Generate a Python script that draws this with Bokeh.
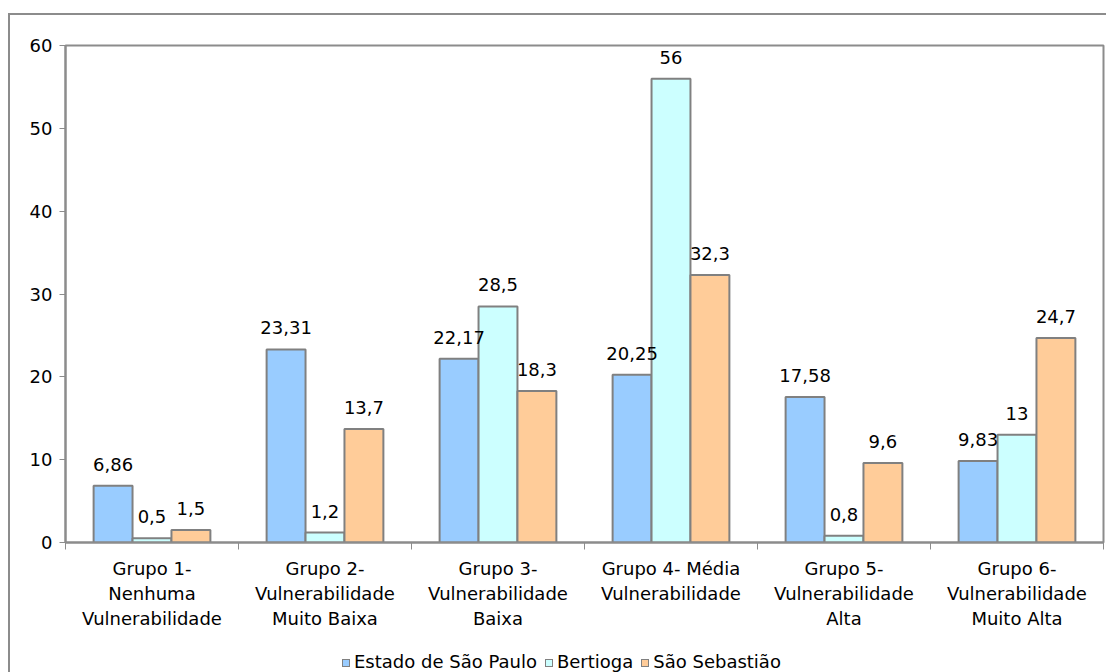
from bokeh.plotting import figure
from bokeh.models import (ColumnDataSource, FixedTicker, Range1d, LabelSet, Div)
from bokeh.layouts import column
from bokeh.core.properties import value
from bokeh.embed import file_html
from bokeh.resources import INLINE

categories = ["Grupo 1-\nNenhuma\nVulnerabilidade",
              "Grupo 2-\nVulnerabilidade\nMuito Baixa",
              "Grupo 3-\nVulnerabilidade\nBaixa",
              "Grupo 4- Média\nVulnerabilidade",
              "Grupo 5-\nVulnerabilidade\nAlta",
              "Grupo 6-\nVulnerabilidade\nMuito Alta"]
series_names = ["Estado de São Paulo", "Bertioga", "São Sebastião"]
estado = [6.86, 23.31, 22.17, 20.25, 17.58, 9.83]
bertioga = [0.5, 1.2, 28.5, 56, 0.8, 13]
sebastiao = [1.5, 13.7, 18.3, 32.3, 9.6, 24.7]
labels_estado = ["6,86", "23,31", "22,17", "20,25", "17,58", "9,83"]
labels_bertioga = ["0,5", "1,2", "28,5", "56", "0,8", "13"]
labels_sebastiao = ["1,5", "13,7", "18,3", "32,3", "9,6", "24,7"]
y_ticks = [0, 10, 20, 30, 40, 50, 60]

colors = ["#99CCFF", "#CCFFFF", "#FFCC99"]
FONT = "DejaVu Sans"
FS = "18px"
GRAY = "#8c8c8c"

W = 1096
p = figure(width=W, height=620, output_backend="svg", toolbar_location=None,
           x_range=Range1d(0, 6), y_range=Range1d(0, 60),
           min_border_left=55, min_border_top=30, min_border_right=3,
           min_border_bottom=93)
p.margin = 0
p.xgrid.visible = False
p.ygrid.visible = False
p.outline_line_color = GRAY
p.outline_line_width = 2

bw = 0.225
series = [estado, bertioga, sebastiao]
labs = [labels_estado, labels_bertioga, labels_sebastiao]
for k, (vals, lab) in enumerate(zip(series, labs)):
    xs = [i + 0.5 + (k - 1) * bw for i in range(len(vals))]
    src = ColumnDataSource(dict(x=xs, top=vals, lab=lab))
    p.vbar(x="x", top="top", width=bw, bottom=0, source=src,
           fill_color=colors[k], line_color="#808080", line_width=2)
    p.add_layout(LabelSet(x="x", y="top", text="lab", source=src,
                          text_align="center", text_baseline="alphabetic",
                          y_offset=15, text_font=value(FONT), text_font_size=FS,
                          text_color="#000000"))

# y axis
p.yaxis.ticker = FixedTicker(ticks=y_ticks)
p.yaxis.axis_line_color = GRAY
p.yaxis.axis_line_width = 2
p.yaxis.major_tick_line_color = GRAY
p.yaxis.major_tick_out = 6
p.yaxis.major_tick_in = 0
p.yaxis.minor_tick_line_color = None
p.yaxis.major_label_text_font = FONT
p.yaxis.major_label_text_font_size = FS
p.yaxis.major_label_text_color = "#000000"
p.yaxis.major_label_standoff = 7

# x axis: labels at group centres, tick marks between groups
centers = [i + 0.5 for i in range(len(categories))]
p.xaxis.ticker = FixedTicker(ticks=centers, minor_ticks=list(range(len(categories) + 1)))
p.xaxis.major_label_overrides = {c: lab for c, lab in zip(centers, categories)}
p.xaxis.axis_line_color = GRAY
p.xaxis.axis_line_width = 2
p.xaxis.major_tick_line_color = None
p.xaxis.major_tick_out = 5
p.xaxis.major_tick_in = 0
p.xaxis.minor_tick_line_color = GRAY
p.xaxis.minor_tick_out = 7
p.xaxis.minor_tick_in = 0
p.xaxis.major_label_text_font = FONT
p.xaxis.major_label_text_font_size = FS
p.xaxis.major_label_text_color = "#000000"
p.xaxis.major_label_standoff = 8

# legend (HTML row under the chart)
def swatch(c, first):
    ml = "0" if first else "8px"
    return ('<span style="display:inline-block;width:8px;height:8px;background:%s;'
            'border:1px solid #808080;margin-left:%s;margin-right:4px;'
            'position:relative;top:-1px;"></span>' % (c, ml))

legend_html = ('<div style="font-family:\'DejaVu Sans\';font-size:18px;color:#000;'
               'white-space:nowrap;padding-left:332px;padding-top:16px;line-height:21px;">'
               + "".join(swatch(c, i == 0) + n for i, (c, n) in enumerate(zip(colors, series_names)))
               + '</div>')
legend_div = Div(text=legend_html, width=W, height=37, margin=0)

layout = column(p, legend_div, spacing=0)
layout.margin = (13, 0, 0, 8)
layout.styles = {"border-left": "2px solid " + GRAY, "border-top": "2px solid " + GRAY}

open("out.html", "w").write(file_html(layout, INLINE))
